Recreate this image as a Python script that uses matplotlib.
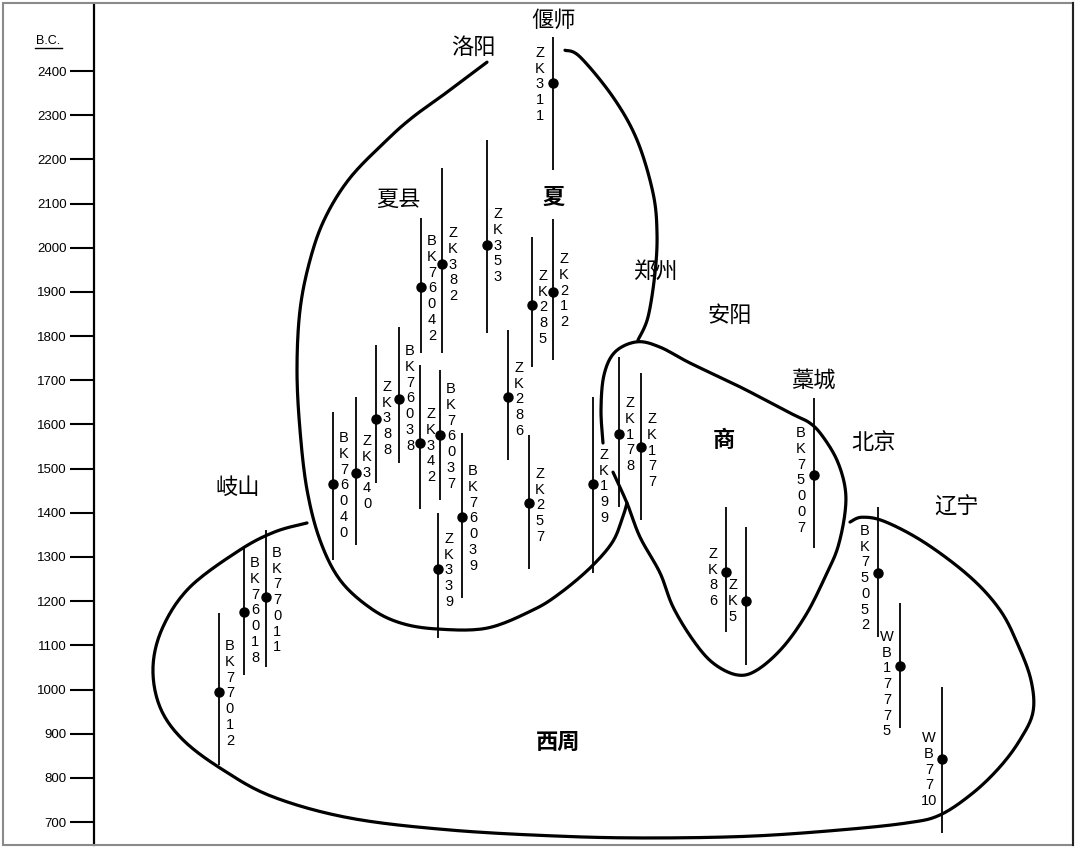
import numpy as np
import matplotlib
matplotlib.use("Agg")
import matplotlib.pyplot as plt
from matplotlib.patches import Rectangle

# ---------------- data (years B.C.) ----------------
sample_ids = ["ZK311", "ZK353", "ZK382", "BK76042", "BK76038", "ZK388", "ZK340",
              "BK76040", "ZK342", "BK76037", "BK76039", "ZK339", "ZK257", "ZK286",
              "ZK285", "ZK212", "ZK199", "ZK178", "ZK177", "BK75007", "ZK86", "ZK5",
              "BK75052", "WB17775", "WB7710", "BK77011", "BK76018", "BK77012"]
date_center = [2373, 2006, 1963, 1911, 1658, 1612, 1490, 1465, 1558, 1576, 1390, 1273,
               1422, 1662, 1870, 1900, 1465, 1578, 1549, 1486, 1266, 1200, 1264, 1053,
               843, 1209, 1176, 994]
date_upper = [2477, 2244, 2180, 2067, 1821, 1780, 1662, 1628, 1735, 1723, 1581, 1400,
              1576, 1814, 2024, 2065, 1662, 1753, 1716, 1660, 1413, 1368, 1413, 1196,
              1006, 1361, 1325, 1173]
date_lower = [2176, 1807, 1762, 1762, 1513, 1467, 1327, 1293, 1409, 1429, 1207, 1117,
              1273, 1520, 1730, 1746, 1264, 1413, 1384, 1320, 1130, 1056, 1119, 913,
              675, 1051, 1033, 829]

# horizontal placement of each sample (arbitrary site axis) and label layout
site_x = [553, 487, 442, 421, 399, 376, 356, 333, 420, 440, 462, 438, 529, 508,
          532, 553, 593, 619, 641, 814, 726, 746, 878, 900, 942, 266, 244, 219]
label_side = ["L", "R", "R", "R", "R", "R", "R", "R", "R", "R", "R", "R", "R", "R",
              "R", "R", "R", "R", "R", "L", "L", "L", "L", "L", "L", "R", "R", "R"]
label_top = [2457, 2092, 2049, 2031, 1782, 1701, 1578, 1585, 1639, 1696, 1510, 1357,
             1504, 1744, 1952, 1990, 1547, 1664, 1628, 1596, 1323, 1252, 1375, 1135,
             906, 1325, 1302, 1114]

year_ticks = [2400, 2300, 2200, 2100, 2000, 1900, 1800, 1700, 1600, 1500, 1400,
              1300, 1200, 1100, 1000, 900, 800, 700]

# place names and culture names
place_names = ["偃师", "洛阳", "夏县", "郑州", "安阳", "藁城", "北京", "辽宁", "岐山"]
place_x = [553, 473, 398, 655, 730, 813, 874, 957, 238]
place_y = [2515, 2454, 2110, 1947, 1848, 1701, 1558, 1413, 1458]
culture_names = ["夏", "商", "西周"]
culture_x = [554, 724, 558]
culture_y = [2115, 1563, 881]

# hand-drawn grouping outlines (site x, year)
xia_left_x = [487, 447, 413, 387, 350, 325, 310, 300, 297, 300, 307, 320, 340, 370,
              400, 437, 487, 533, 560, 590, 612, 622, 627]
xia_left_y = [2420, 2352, 2296, 2244, 2158, 2067, 1972, 1859, 1723, 1587, 1452, 1338,
              1248, 1185, 1151, 1137, 1139, 1180, 1218, 1275, 1332, 1385, 1422]
xia_right_x = [565, 580, 613, 637, 653, 657, 655, 648, 638]
xia_right_y = [2447, 2432, 2341, 2244, 2124, 2033, 1943, 1843, 1791]
shang_x = [603, 601, 604, 615, 637, 660, 690, 740, 790, 810, 823, 837, 845, 845, 838,
           827, 807, 783, 757, 737, 713, 693, 673, 660, 640, 627, 613]
shang_y = [1558, 1633, 1712, 1764, 1787, 1775, 1739, 1685, 1626, 1603, 1572, 1519,
           1458, 1400, 1323, 1264, 1173, 1096, 1044, 1033, 1060, 1112, 1187, 1264,
           1345, 1422, 1492]
zhou_x = [307, 275, 240, 190, 163, 153, 160, 183, 223, 273, 350, 450, 560, 650, 750,
          840, 907, 940, 973, 1000, 1020, 1033, 1031, 1018, 1000, 970, 925, 885, 862,
          850]
zhou_y = [1377, 1357, 1316, 1232, 1142, 1051, 960, 886, 818, 757, 709, 682, 668, 664,
          668, 682, 698, 716, 766, 825, 886, 949, 1021, 1101, 1180, 1255, 1332, 1380,
          1390, 1379]

# ---------------- drawing ----------------
W, H = 1080, 848
fig = plt.figure(figsize=(W / 100, H / 100), dpi=100)
ax = fig.add_axes([0, 0, 1, 1])
Y_TOP = 2400 + 71 * 2.2635
Y_BOT = 2400 - (H - 71) * 2.2635
ax.set_xlim(0, W)
ax.set_ylim(Y_BOT, Y_TOP)
ax.patch.set_alpha(0)

for s in ["top", "right", "bottom"]:
    ax.spines[s].set_visible(False)
ax.spines["left"].set_position(("data", 94))
ax.spines["left"].set_linewidth(1.6)
ax.spines["left"].set_bounds(Y_BOT + 3 * 2.2635, Y_TOP - 4 * 2.2635)
ax.set_xticks([])
ax.set_yticks(year_ticks)
ax.set_yticklabels([str(t) for t in year_ticks])
ax.tick_params(axis="y", direction="out", length=17, width=1.5, pad=2.5,
               labelsize=9.5)
for lab in ax.get_yticklabels():
    lab.set_fontfamily("Liberation Sans")

ax.text(48, 2400 + 30 * 2.2635, "B.C.", ha="center", va="center", fontsize=9,
        family="Liberation Sans")
ax.plot([35, 62], [2400 + 23 * 2.2635] * 2, color="black", lw=1)


def smooth(xs, ys, n=14):
    xs = np.asarray(xs, float)
    ys = np.asarray(ys, float)
    P = np.column_stack([xs, ys])
    P = np.vstack([P[0], P, P[-1]])
    out = []
    t = np.linspace(0, 1, n, endpoint=False)[:, None]
    for i in range(1, len(P) - 2):
        p0, p1, p2, p3 = P[i - 1], P[i], P[i + 1], P[i + 2]
        seg = 0.5 * ((2 * p1) + (-p0 + p2) * t + (2 * p0 - 5 * p1 + 4 * p2 - p3) * t ** 2
                     + (-p0 + 3 * p1 - 3 * p2 + p3) * t ** 3)
        out.append(seg)
    out.append(P[-2][None, :])
    out = np.vstack(out)
    return out[:, 0], out[:, 1]


for xs, ys in [(xia_left_x, xia_left_y), (xia_right_x, xia_right_y),
               (shang_x, shang_y), (zhou_x, zhou_y)]:
    sx, sy = smooth(xs, ys)
    ax.plot(sx, sy, color="black", lw=2.3, solid_capstyle="round",
            solid_joinstyle="round")

# sample ranges
ax.vlines(site_x, date_lower, date_upper, color="black", lw=1.3)
ax.plot(site_x, date_center, "o", color="black", ms=6.5)


def stack(label):
    chars = list(label)
    if label.endswith("10"):
        chars = chars[:-2] + ["10"]
    return "\n".join(chars)


for sid, x, side, top in zip(sample_ids, site_x, label_side, label_top):
    tx = x + 11 if side == "R" else x - 13
    ax.text(tx, top, stack(sid), ha="center", va="top", fontsize=10.5,
            family="Liberation Sans", linespacing=1.16, multialignment="center")

for name, x, y in zip(place_names, place_x, place_y):
    ax.text(x, y, name, ha="center", va="center", fontsize=16,
            family="Noto Sans CJK SC", fontweight="normal")
for name, x, y in zip(culture_names, culture_x, culture_y):
    ax.text(x, y, name, ha="center", va="center", fontsize=16,
            family="Noto Sans CJK SC", fontweight="bold")

# frame of the scanned figure
fig.patches.append(Rectangle((3 / W, 3 / H), (1073 - 3) / W, (845 - 3) / H,
                             transform=fig.transFigure, fill=False,
                             edgecolor="#8a8a8a", lw=1.5))
fig.lines.append(plt.Line2D([1073 / W, 1073 / W], [3 / H, 845 / H],
                            transform=fig.transFigure, color="#222222", lw=1.5))

fig.savefig("out.png", dpi=100)
